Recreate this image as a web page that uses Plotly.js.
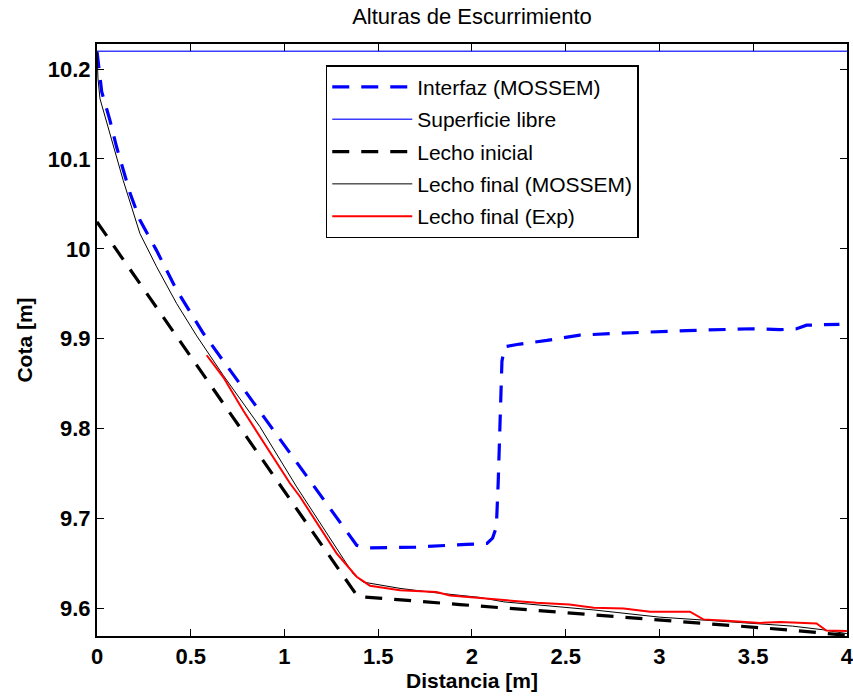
<!DOCTYPE html>
<html>
<head>
<meta charset="utf-8">
<script src="https://cdn.plot.ly/plotly-3.0.1.min.js"></script>
<style>
  html, body { margin: 0; padding: 0; background: #fff; }
  #chart { width: 853px; height: 696px; }
</style>
</head>
<body>
<div id="chart"></div>
<script>
// Interfaz (MOSSEM)
const interfazX = [0, 0.012, 0.025, 0.069, 0.105, 0.176, 0.229, 0.318, 0.425, 0.567, 0.75, 0.958, 1.15, 1.385,
  1.45, 1.7, 1.97, 2.08, 2.11, 2.13, 2.14, 2.15, 2.16, 2.175, 2.256, 2.4, 2.576, 2.789, 3.145, 3.5, 3.643, 3.732, 3.785, 3.96];
const interfazY = [10.22, 10.198, 10.175, 10.143, 10.113, 10.062, 10.032, 9.998, 9.954, 9.906, 9.853, 9.794, 9.738, 9.670,
  9.667, 9.668, 9.671, 9.672, 9.678, 9.69, 9.74, 9.82, 9.875, 9.891, 9.894, 9.898, 9.904, 9.906, 9.909, 9.911, 9.910, 9.911, 9.915, 9.916];

// Superficie libre
const superficieX = [0, 4];
const superficieY = [10.22, 10.22];

// Lecho inicial
const inicialX = [0, 1.39, 1.936, 3.0, 3.71, 4.0];
const inicialY = [10.03, 9.613, 9.604, 9.587, 9.5754, 9.5697];

// Lecho final (MOSSEM)
const finalModX = [0, 0.005, 0.016, 0.069, 0.105, 0.14, 0.229, 0.318, 0.425, 0.532, 0.674, 0.869, 1.065, 1.367, 1.385,
  1.42, 1.616, 1.81, 2.04, 2.17, 2.65, 3.0, 3.36, 3.71, 3.87, 4.0];
const finalModY = [10.22, 10.19, 10.167, 10.128, 10.102, 10.076, 10.017, 9.980, 9.939, 9.903, 9.859, 9.802, 9.735, 9.638, 9.635,
  9.629, 9.622, 9.617, 9.612, 9.607, 9.598, 9.590, 9.585, 9.580, 9.576, 9.5716];

// Lecho final (Exp)
const finalExpX = [0.585, 0.674, 0.78, 0.905, 1.029, 1.083, 1.278, 1.385, 1.456, 1.616, 1.81, 1.883, 2.04, 2.149, 2.345,
  2.52, 2.65, 2.81, 2.95, 3.163, 3.234, 3.36, 3.536, 3.643, 3.838, 3.89, 4.0];
const finalExpY = [9.8815, 9.857, 9.820, 9.779, 9.739, 9.724, 9.661, 9.635, 9.625, 9.620, 9.618, 9.614, 9.611, 9.609, 9.606,
  9.604, 9.6005, 9.5995, 9.596, 9.596, 9.5875, 9.586, 9.5835, 9.5846, 9.583, 9.575, 9.5745];

const xTickVals = [0, 0.5, 1, 1.5, 2, 2.5, 3, 3.5, 4];
const xTickText = ['0', '0.5', '1', '1.5', '2', '2.5', '3', '3.5', '4'];
const yTickVals = [9.6, 9.7, 9.8, 9.9, 10, 10.1, 10.2];
const yTickText = ['9.6', '9.7', '9.8', '9.9', '10', '10.1', '10.2'];

const FONT = 'Liberation Sans, Arial, Helvetica, sans-serif';

const traces = [
  { x: interfazX, y: interfazY, name: 'Interfaz (MOSSEM)', legendgroup: 'a',
    mode: 'lines', line: { color: '#0000ff', width: 3.2, dash: '17px,12px' } },
  { x: superficieX, y: superficieY, name: 'Superficie libre', legendgroup: 'b',
    mode: 'lines', line: { color: '#3c3cff', width: 1.4 } },
  { x: inicialX, y: inicialY, name: 'Lecho inicial', legendgroup: 'c',
    mode: 'lines', line: { color: '#000000', width: 3.2, dash: '17px,12px' } },
  { x: finalModX, y: finalModY, name: 'Lecho final (MOSSEM)', legendgroup: 'd',
    mode: 'lines', line: { color: '#000000', width: 1 } },
  { x: finalExpX, y: finalExpY, name: 'Lecho final (Exp)', legendgroup: 'e',
    mode: 'lines', line: { color: '#ff0000', width: 2 } }
];

const axisCommon = {
  showgrid: false, zeroline: false,
  showline: true, linecolor: '#000', linewidth: 2, mirror: 'ticks',
  ticks: 'inside', ticklen: 7, tickwidth: 1, tickcolor: '#000',
  ticklabeloverflow: 'allow',
  tickfont: { family: FONT, size: 22, color: '#000', weight: 'bold' }
};

const layout = {
  width: 853, height: 696,
  paper_bgcolor: '#fff', plot_bgcolor: '#fff',
  margin: { l: 97, r: 6, t: 44, b: 60, pad: 0 },
  showlegend: true,
  title: {
    text: 'Alturas de Escurrimiento',
    font: { family: FONT, size: 22, color: '#000' },
    x: 0.5, xref: 'paper', y: 0.976, yref: 'container', yanchor: 'middle'
  },
  xaxis: Object.assign({}, axisCommon, {
    range: [0, 4.0005], tickvals: xTickVals, ticktext: xTickText,
    title: { text: 'Distancia [m]', font: { family: FONT, size: 21, color: '#000', weight: 'bold' }, standoff: 2 }
  }),
  yaxis: Object.assign({}, axisCommon, {
    range: [9.569, 10.228], tickvals: yTickVals, ticktext: yTickText,
    title: { text: 'Cota [m]', font: { family: FONT, size: 21, color: '#000', weight: 'bold' }, standoff: 9 }
  }),
  legend: {
    x: 0.305, y: 0.964, xanchor: 'left', yanchor: 'top',
    bgcolor: '#fff', bordercolor: '#000', borderwidth: 1.5,
    font: { family: FONT, size: 21, color: '#000' },
    traceorder: 'grouped', tracegroupgap: 2, itemwidth: 80
  }
};

Plotly.newPlot('chart', traces, layout, { displayModeBar: false, staticPlot: true });
</script>
</body>
</html>
